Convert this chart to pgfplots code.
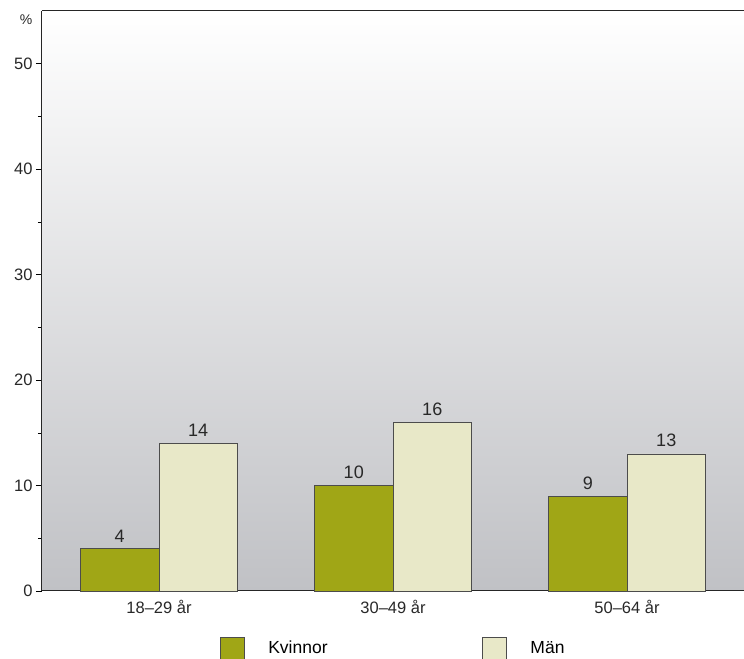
\documentclass[border=0pt]{standalone}
\usepackage{pgfplots}
\pgfplotsset{compat=1.18}
\usepackage{fontspec}
\setmainfont{Liberation Sans}
\usetikzlibrary{calc}
\definecolor{kvinnor}{RGB}{160,166,22}
\definecolor{man}{RGB}{232,232,200}
\definecolor{bgbot}{RGB}{192,193,197}
\definecolor{txt}{RGB}{40,40,40}
\begin{document}
\begin{tikzpicture}[x=1pt,y=1pt]
\begin{axis}[
  scale only axis,
  width=702pt, height=580pt,
  ymin=0, ymax=55,
  xmin=-0.5, xmax=2.5,
  axis x line*=bottom, axis y line*=left,
  ybar=0pt, bar width=78.5pt,
  xtick={0,1,2},
  xticklabels={18–29 år,30–49 år,50–64 år},
  x tick style={draw=none},
  ytick={0,10,20,30,40,50},
  minor y tick num=1,
  tick align=outside,
  major tick length=6pt, minor tick length=4pt,
  y tick style={black, line width=0.6pt},
  axis line style={black!85, line width=1pt},
  tick label style={font=\fontsize{16.5}{18}\selectfont, text=txt},
  /pgf/number format/assume math mode=true,
  axis background/.style={top color=white, bottom color=bgbot},
  nodes near coords,
  every node near coord/.append style={font=\fontsize{18}{20}\selectfont, text=txt, yshift=3pt},
  legend style={at={(0.5,-0.075)}, anchor=north, draw=none, fill=none,
    legend columns=2, font=\fontsize{17.5}{20}\selectfont,
    /tikz/every even column/.append style={column sep=152pt}},
  legend image code/.code={\draw[#1] (0pt,-11pt) rectangle (24pt,11pt);},
  clip=false,
]
\addplot[fill=kvinnor, draw=black!70, line width=0.8pt] coordinates {(0,4) (1,10) (2,9)};
\addlegendentry{\hspace{22pt}Kvinnor}
\addplot[fill=man, draw=black!70, line width=0.8pt] coordinates {(0,14) (1,16) (2,13)};
\addlegendentry{\hspace{22pt}Män}
\draw[black!85, line width=1pt] (rel axis cs:0,1) -- (rel axis cs:1,1);
\node[font=\fontsize{14}{16}\selectfont, text=txt] at ($(rel axis cs:0,1)+(-16pt,-9pt)$) {\%};
\end{axis}
\pgfresetboundingbox
\path ($(current axis.south west)+(-42pt,-68pt)$) rectangle ($(current axis.north east)+(0pt,11pt)$);
\end{tikzpicture}
\end{document}
